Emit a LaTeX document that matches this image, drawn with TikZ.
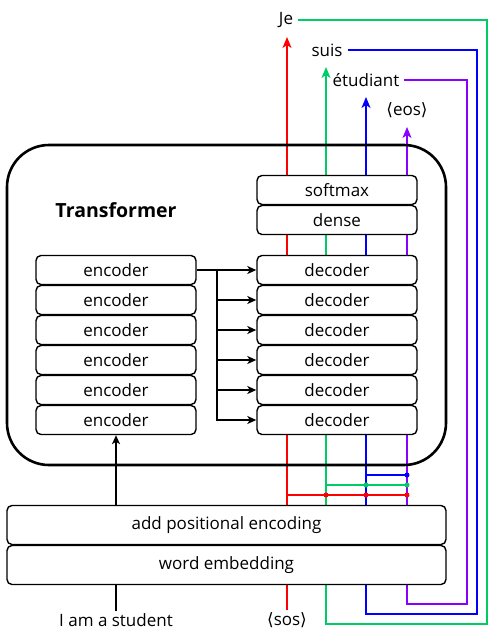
\documentclass[tikz,border=0pt]{standalone}
\usepackage{fontspec}
\setmainfont{Open Sans}
\newfontfamily\symfont{DejaVu Sans}
\usetikzlibrary{arrows.meta}
\definecolor{cred}{RGB}{255,0,0}
\definecolor{cgreen}{RGB}{0,204,102}
\definecolor{cblue}{RGB}{0,0,255}
\definecolor{cpurple}{RGB}{136,0,255}
\tikzset{
  blk/.style={draw=black,fill=white,line width=1.4pt,rounded corners=5pt,minimum height=29pt,inner sep=0pt,font=\fontsize{17}{20}\selectfont},
  encbox/.style={blk,minimum width=160pt},
  wide/.style={blk,minimum width=439pt,minimum height=39pt},
  lbl/.style={font=\fontsize{17}{20}\selectfont,inner ysep=2pt,inner xsep=5pt},
  conn/.style={line width=1.7pt,-{Stealth[length=9pt,width=8pt,inset=2.5pt]}},
  col/.style={line width=1.6pt},
  colarr/.style={line width=1.6pt,-{Stealth[length=11pt,width=9pt,inset=3pt]}},
  dot/.style={circle,fill,inner sep=0pt,minimum size=5pt},
}
\begin{document}
\begin{tikzpicture}[x=1pt,y=-1pt]
\useasboundingbox (0,0) rectangle (501,641);
% labels
\node[lbl] (je) at (286,20) {Je};
\node[lbl] (suis) at (327,50) {suis};
\node[lbl] (etu) at (366,80) {étudiant};
\node[lbl] (eos) at (407,110) {{\symfont ⟨}eos{\symfont ⟩}};
\node[lbl] (sos) at (287,620) {{\symfont ⟨}sos{\symfont ⟩}};
\node[lbl] (src) at (116,620) {I am a student};
% corner coordinates
\coordinate (gc) at (487,624);
\coordinate (bc) at (477,614);
\coordinate (pc) at (467,604);
\coordinate (jetip) at (287,37);
\coordinate (suistip) at (326,67);
\coordinate (etutip) at (366,97);
\coordinate (eostip) at (407,127);
% coloured paths
\draw[colarr,cred] (sos.north) -- (jetip);
\draw[colarr,cgreen] (je.east) -| (gc) -| (suistip);
\draw[colarr,cblue] (suis.east) -| (bc) -| (etutip);
\draw[colarr,cpurple] (etu.east) -| (pc) -| (eostip);
% junctions
\coordinate (b1) at (366,475);
\coordinate (b2) at (407,475);
\coordinate (g1) at (326,485);
\coordinate (g2) at (366,485);
\coordinate (g3) at (407,485);
\coordinate (r1) at (287,495);
\coordinate (r2) at (326,495);
\coordinate (r3) at (366,495);
\coordinate (r4) at (407,495);
\draw[col,cblue] (b1) -- (b2);
\node[dot,cblue] at (b2) {};
\draw[col,cgreen] (g1) -- (g3);
\node[dot,cgreen] at (g2) {};
\node[dot,cgreen] at (g3) {};
\draw[col,cred] (r1) -- (r4);
\node[dot,cred] at (r2) {};
\node[dot,cred] at (r3) {};
\node[dot,cred] at (r4) {};
% transformer box
\draw[line width=2.6pt,rounded corners=42pt] (7,145) rectangle (446,465);
\node[font=\fontsize{19.5}{22}\selectfont\bfseries] (title) at (116,210) {Transformer};
% encoders / decoders
\foreach \i/\y in {1/270,2/300,3/330,4/360,5/390,6/420}{
  \node[encbox] (enc\i) at (116,\y) {encoder};
  \node[encbox] (dec\i) at (337,\y) {decoder};
}
\node[encbox] (soft) at (337,190) {softmax};
\node[encbox] (dense) at (337,220) {dense};
% bottom boxes
\node[wide] (ape) at (226.5,525) {add positional encoding};
\node[wide] (we) at (226.5,565) {word embedding};
% connectors
\coordinate (br) at (217,270);
\draw[conn] (enc1.east) -- (dec1.west);
\foreach \i in {2,...,6}{
  \draw[conn] (br) |- (dec\i.west);
}
\draw[line width=1.7pt] (src.north) -- (src.north |- we.south);
\draw[conn] (ape.north -| enc6.south) -- (enc6.south);
\end{tikzpicture}
\end{document}
